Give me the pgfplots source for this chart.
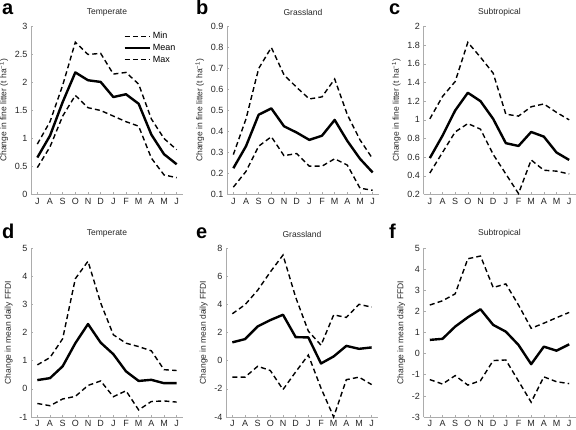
\documentclass[border=0pt]{standalone}
\usepackage{fontspec}
\setmainfont{Liberation Sans}
\usepackage{pgfplots}
\pgfplotsset{compat=1.18}
\pgfplotsset{
  common/.style={
    scale only axis, width=152pt,
    xmin=0.5, xmax=12.5,
    xtick={1,...,12},
    xticklabels={J,A,S,O,N,D,J,F,M,A,M,J},
    axis x line*=bottom, axis y line*=left,
    axis line style={gray!65, line width=0.6pt, -},
    tick style={gray!65, line width=0.5pt},
    tick align=inside, major tick length=2pt,
    /pgf/number format/assume math mode=true,
    tick label style={font=\fontsize{9}{10}\selectfont, text=black!85},
    ylabel style={font=\fontsize{8.5}{9}\selectfont, text=black!85},
    title style={font=\fontsize{8.5}{9}\selectfont, text=black!85, yshift=1pt},
    clip=false,
  },
  meanl/.style={black, line width=2.4pt, line join=round},
  dashl/.style={black, line width=1.4pt, dash pattern=on 5pt off 3.2pt},
}
\newcommand{\litlab}{Change in fine litter (t ha\textsuperscript{−1})}
\newcommand{\ffdilab}{Change in mean daily FFDI}
\begin{document}
\begin{tikzpicture}[x=1pt,y=1pt]
\useasboundingbox (0,0) rectangle (576,430);
% ---------- a ----------
\begin{axis}[common, at={(31pt,235.5pt)}, anchor=south west, height=168pt,
  ymin=0, ymax=3, ytick={0,0.5,...,3}, title={Temperate}, ylabel={\litlab},
  legend style={at={(0.6,0.985)}, anchor=north west, draw=none, fill=none,
    font=\fontsize{9}{10}\selectfont, row sep=0pt, inner sep=1pt},
  legend cell align=left,
  legend image code/.code={\draw[#1] (0pt,0pt) -- (25pt,0pt);}]
\addplot[dashl] coordinates {(1,0.48)(2,0.85)(3,1.40)(4,1.77)(5,1.55)(6,1.50)(7,1.40)(8,1.30)(9,1.22)(10,0.65)(11,0.35)(12,0.30)};
\addlegendentry{Min}
\addplot[meanl] coordinates {(1,0.66)(2,1.05)(3,1.65)(4,2.18)(5,2.04)(6,2.01)(7,1.74)(8,1.79)(9,1.62)(10,1.07)(11,0.72)(12,0.54)};
\addlegendentry{Mean}
\addplot[dashl] coordinates {(1,0.90)(2,1.30)(3,1.95)(4,2.72)(5,2.50)(6,2.52)(7,2.15)(8,2.18)(9,1.97)(10,1.35)(11,1.00)(12,0.80)};
\addlegendentry{Max}
\end{axis}
% ---------- b ----------
\begin{axis}[common, at={(227pt,235.5pt)}, anchor=south west, height=168pt,
  ymin=0.1, ymax=0.9, ytick={0.1,0.2,0.3,0.4,0.5,0.6,0.7,0.8,0.9}, title={Grassland}, ylabel={\litlab}]
\addplot[dashl] coordinates {(1,0.135)(2,0.21)(3,0.33)(4,0.375)(5,0.285)(6,0.295)(7,0.235)(8,0.235)(9,0.27)(10,0.24)(11,0.13)(12,0.12)};
\addplot[meanl] coordinates {(1,0.225)(2,0.33)(3,0.48)(4,0.51)(5,0.425)(6,0.395)(7,0.36)(8,0.38)(9,0.455)(10,0.355)(11,0.27)(12,0.205)};
\addplot[dashl] coordinates {(1,0.29)(2,0.46)(3,0.70)(4,0.80)(5,0.67)(6,0.61)(7,0.555)(8,0.565)(9,0.65)(10,0.48)(11,0.36)(12,0.27)};
\end{axis}
% ---------- c ----------
\begin{axis}[common, at={(423.5pt,235.5pt)}, anchor=south west, height=168pt,
  ymin=0.2, ymax=2, ytick={0.2,0.4,0.6,0.8,1,1.2,1.4,1.6,1.8,2}, title={Subtropical}, ylabel={\litlab}]
\addplot[dashl] coordinates {(1,0.43)(2,0.65)(3,0.87)(4,0.96)(5,0.90)(6,0.63)(7,0.42)(8,0.21)(9,0.57)(10,0.46)(11,0.45)(12,0.42)};
\addplot[meanl] coordinates {(1,0.59)(2,0.83)(3,1.10)(4,1.29)(5,1.20)(6,1.01)(7,0.75)(8,0.72)(9,0.87)(10,0.82)(11,0.65)(12,0.57)};
\addplot[dashl] coordinates {(1,1.01)(2,1.25)(3,1.41)(4,1.83)(5,1.67)(6,1.50)(7,1.06)(8,1.04)(9,1.14)(10,1.17)(11,1.08)(12,1.00)};
\end{axis}
% ---------- d ----------
\begin{axis}[common, at={(31pt,13pt)}, anchor=south west, height=169pt,
  ymin=-1, ymax=5, ytick={-1,0,...,5}, title={Temperate}, ylabel={\ffdilab}]
\addplot[dashl] coordinates {(1,-0.52)(2,-0.60)(3,-0.36)(4,-0.27)(5,0.12)(6,0.28)(7,-0.28)(8,-0.07)(9,-0.75)(10,-0.45)(11,-0.43)(12,-0.47)};
\addplot[meanl] coordinates {(1,0.31)(2,0.38)(3,0.80)(4,1.62)(5,2.30)(6,1.64)(7,1.23)(8,0.62)(9,0.28)(10,0.32)(11,0.20)(12,0.20)};
\addplot[dashl] coordinates {(1,0.85)(2,1.11)(3,1.78)(4,3.91)(5,4.53)(6,3.05)(7,1.92)(8,1.62)(9,1.50)(10,1.35)(11,0.68)(12,0.65)};
\end{axis}
% ---------- e ----------
\begin{axis}[common, at={(226pt,13pt)}, anchor=south west, height=169pt,
  ymin=-4, ymax=8, ytick={-4,-2,...,8}, title={Grassland}, ylabel={\ffdilab}]
\addplot[dashl] coordinates {(1,-1.17)(2,-1.17)(3,-0.40)(4,-0.70)(5,-2.05)(6,-0.80)(7,0.40)(8,-1.95)(9,-4.0)(10,-1.35)(11,-1.17)(12,-1.70)};
\addplot[meanl] coordinates {(1,1.30)(2,1.53)(3,2.43)(4,2.88)(5,3.26)(6,1.67)(7,1.65)(8,-0.20)(9,0.30)(10,1.05)(11,0.84)(12,0.94)};
\addplot[dashl] coordinates {(1,3.33)(2,3.97)(3,5.00)(4,6.30)(5,7.50)(6,4.50)(7,2.10)(8,1.10)(9,3.25)(10,3.07)(11,4.00)(12,3.80)};
\end{axis}
% ---------- f ----------
\begin{axis}[common, at={(423.5pt,13pt)}, anchor=south west, height=169pt,
  ymin=-3, ymax=5, ytick={-3,-2,...,5}, title={Subtropical}, ylabel={\ffdilab}]
\addplot[dashl] coordinates {(1,-1.23)(2,-1.44)(3,-1.04)(4,-1.49)(5,-1.28)(6,-0.33)(7,-0.30)(8,-1.30)(9,-2.30)(10,-1.10)(11,-1.33)(12,-1.42)};
\addplot[meanl] coordinates {(1,0.65)(2,0.70)(3,1.28)(4,1.72)(5,2.10)(6,1.36)(7,1.04)(8,0.41)(9,-0.50)(10,0.33)(11,0.14)(12,0.44)};
\addplot[dashl] coordinates {(1,2.30)(2,2.50)(3,2.83)(4,4.49)(5,4.62)(6,3.13)(7,3.30)(8,2.30)(9,1.20)(10,1.44)(11,1.70)(12,1.95)};
\end{axis}
% ---------- panel letters ----------
\begin{scope}[every node/.style={font=\fontsize{20}{20}\selectfont\bfseries, anchor=base west, inner sep=0pt}]
\node at (2,415) {a};
\node at (196,415) {b};
\node at (389,415) {c};
\node at (2,191) {d};
\node at (196,191) {e};
\node at (389,191) {f};
\end{scope}
\end{tikzpicture}
\end{document}
